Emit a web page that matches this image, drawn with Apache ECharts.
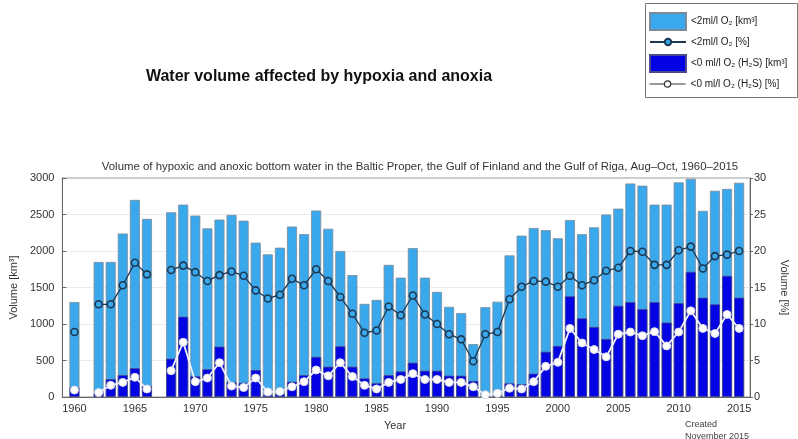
<!DOCTYPE html>
<html>
<head>
<meta charset="utf-8">
<title>Water volume affected by hypoxia and anoxia</title>
<script src="https://cdn.jsdelivr.net/npm/echarts@6.0.0/dist/echarts.min.js"></script>
<style>
  html, body {margin:0; padding:0; background:#fff;}
  #main {width:798px; height:439px;}
</style>
</head>
<body>
<div id="main"></div>
<script>
// years of the survey, 1960-2015 (no data 1961 and 1967)
var years = [1960,1961,1962,1963,1964,1965,1966,1967,1968,1969,
             1970,1971,1972,1973,1974,1975,1976,1977,1978,1979,
             1980,1981,1982,1983,1984,1985,1986,1987,1988,1989,
             1990,1991,1992,1993,1994,1995,1996,1997,1998,1999,
             2000,2001,2002,2003,2004,2005,2006,2007,2008,2009,
             2010,2011,2012,2013,2014,2015];
var xTicks = [1960,1965,1970,1975,1980,1985,1990,1995,2000,2005,2010,2015];

// <2 ml/l O2, km3
var hypoxVol = [1300,null,1850,1850,2240,2700,2440,null,2530,2635,
                2485,2310,2430,2495,2415,2115,1955,2045,2335,2230,
                2555,2305,2000,1670,1275,1330,1810,1635,2040,1635,
                1440,1235,1150,725,1230,1305,1940,2210,2315,2285,
                2175,2425,2230,2325,2500,2580,2925,2895,2635,2635,
                2940,2990,2550,2825,2850,2935];
// <0 ml/l O2 (H2S), km3
var anoxVol = [130,null,50,245,300,395,150,null,525,1100,
               285,380,690,205,195,370,30,40,210,300,
               550,415,695,415,255,190,300,350,470,360,
               360,292,292,220,10,15,187,175,320,620,
               700,1380,1078,960,795,1250,1300,1205,1300,1020,
               1285,1715,1360,1270,1660,1360];
// <2 ml/l O2, %
var hypoxPct = [8.9,null,12.7,12.7,15.3,18.4,16.8,null,17.4,18.0,
                17.1,15.9,16.7,17.2,16.6,14.6,13.5,14.0,16.2,15.3,
                17.5,15.9,13.7,11.4,8.8,9.1,12.4,11.2,13.9,11.3,
                10.0,8.6,7.9,4.9,8.6,8.9,13.4,15.1,15.9,15.8,
                15.1,16.6,15.3,16.0,17.3,17.7,20.0,19.9,18.1,18.1,
                20.1,20.6,17.6,19.3,19.5,20.0];
// <0 ml/l O2 (H2S), %
var anoxPct = [0.95,null,0.6,1.6,2.0,2.7,1.1,null,3.6,7.5,
               2.1,2.6,4.7,1.5,1.3,2.6,0.7,0.75,1.4,2.1,
               3.7,2.9,4.7,2.8,1.6,1.1,2.0,2.4,3.2,2.4,
               2.4,2.0,2.0,1.4,0.3,0.5,1.2,1.1,2.1,4.2,
               4.75,9.4,7.4,6.5,5.5,8.6,8.9,8.4,8.95,7.0,
               8.9,11.8,9.4,8.7,11.3,9.4];

var names = ['<2ml/l O\u2082 [km\u00b3]', '<2ml/l O\u2082 [%]',
             '<0 ml/l O\u2082 (H\u2082S) [km\u00b3]', '<0 ml/l O\u2082 (H\u2082S) [%]'];

function pairs(vals) {
  return years.map(function (y, i) { return [y, vals[i]]; });
}

var lightBlue = '#3aa8ec';
var darkBlue = '#0303e3';
var navy = '#1c3852';
var font = 'Liberation Sans, Arial, sans-serif';

// one legend per entry so the line items can have small markers
function legendItem(i, top, h, extra) {
  var d = {name: names[i]};
  if (extra) Object.assign(d, extra);
  return {
    orient: 'vertical', left: 649, top: top, padding: 0,
    itemWidth: 36, itemHeight: h,
    textStyle: {fontSize: 10, color: '#222', fontFamily: font},
    data: [d]
  };
}

var chart = echarts.init(document.getElementById('main'));
chart.setOption({
  animation: false,
  textStyle: {fontFamily: font},
  title: [
    {text: 'Water volume affected by hypoxia and anoxia', left: 314, top: 64, textAlign: 'center',
     textStyle: {fontSize: 16, fontWeight: 'bold', color: '#111', fontFamily: font}},
    {text: 'Volume of hypoxic and anoxic bottom water in the Baltic Proper, the Gulf of Finland and the Gulf of Riga, Aug\u2013Oct, 1960\u20132015',
     left: 415, top: 156, textAlign: 'center',
     textStyle: {fontSize: 11.4, fontWeight: 'normal', color: '#333', fontFamily: font}},
    {text: 'Year', left: 390, top: 415, textAlign: 'center',
     textStyle: {fontSize: 11, fontWeight: 'normal', color: '#333', fontFamily: font}},
    {text: 'Created\nNovember 2015', left: 680, top: 414,
     textStyle: {fontSize: 9, fontWeight: 'normal', color: '#444', lineHeight: 12, fontFamily: font}}
  ],
  graphic: [
    {type: 'rect', left: 645, top: 3, shape: {width: 152, height: 94},
     style: {fill: '#fff', stroke: '#777', lineWidth: 1}, z: -1}
  ],
  legend: [
    legendItem(0, 12, 17, {icon: 'rect'}),
    legendItem(1, 37, 8),
    legendItem(2, 54, 17, {icon: 'rect'}),
    legendItem(3, 79, 8, {lineStyle: {color: '#333', width: 1.2},
                          itemStyle: {color: '#fff', borderColor: '#333', borderWidth: 1.2}})
  ],
  grid: {left: 60, right: 30, top: 178, bottom: 42, show: true, borderColor: '#999', borderWidth: 1},
  xAxis: {
    type: 'value', min: 1959, max: 2015.9,
    axisLine: {lineStyle: {color: '#666'}},
    axisTick: {show: true, inside: true, length: 4, customValues: xTicks, lineStyle: {color: '#666'}},
    axisLabel: {customValues: xTicks, fontSize: 11, color: '#333', margin: 6,
                formatter: function (v) { return String(v); }},
    splitLine: {show: false}
  },
  yAxis: [
    {type: 'value', min: 0, max: 3000, interval: 500,
     name: 'Volume [km\u00b3]', nameLocation: 'middle', nameGap: 36, nameRotate: 90,
     nameTextStyle: {fontSize: 11, color: '#333'},
     axisLine: {show: true, lineStyle: {color: '#666'}},
     axisTick: {show: true, inside: true, length: 4, lineStyle: {color: '#666'}},
     axisLabel: {fontSize: 11, color: '#333', formatter: function (v) { return String(v); }},
     splitLine: {show: true, lineStyle: {color: '#d8d8d8', type: 'dotted'}}},
    {type: 'value', min: 0, max: 30, interval: 5,
     name: 'Volume [%]', nameLocation: 'middle', nameGap: 29, nameRotate: -90,
     nameTextStyle: {fontSize: 11, color: '#333'},
     axisLine: {show: true, lineStyle: {color: '#666'}},
     axisTick: {show: true, length: 3, lineStyle: {color: '#666'}},
     axisLabel: {fontSize: 11, color: '#333', margin: 4},
     splitLine: {show: false}}
  ],
  series: [
    {name: names[0], type: 'bar', data: pairs(hypoxVol), barWidth: 10, barGap: '-100%',
     itemStyle: {color: lightBlue, borderColor: '#7a8a99', borderWidth: 0.8}, z: 2},
    {name: names[2], type: 'bar', data: pairs(anoxVol), barWidth: 10, barGap: '-100%',
     itemStyle: {color: darkBlue, borderColor: '#4a4a8a', borderWidth: 0.8}, z: 3},
    {name: names[1], type: 'line', yAxisIndex: 1, data: pairs(hypoxPct),
     connectNulls: false, symbol: 'circle', symbolSize: 7,
     lineStyle: {color: navy, width: 1.3},
     itemStyle: {color: lightBlue, borderColor: navy, borderWidth: 1.6}, z: 5},
    {name: names[3], type: 'line', yAxisIndex: 1, data: pairs(anoxPct),
     connectNulls: false, symbol: 'circle', symbolSize: 8,
     lineStyle: {color: '#f0f0fc', width: 1.8},
     itemStyle: {color: '#fff', borderColor: '#d8d8e8', borderWidth: 1}, z: 6}
  ]
});
</script>
</body>
</html>
